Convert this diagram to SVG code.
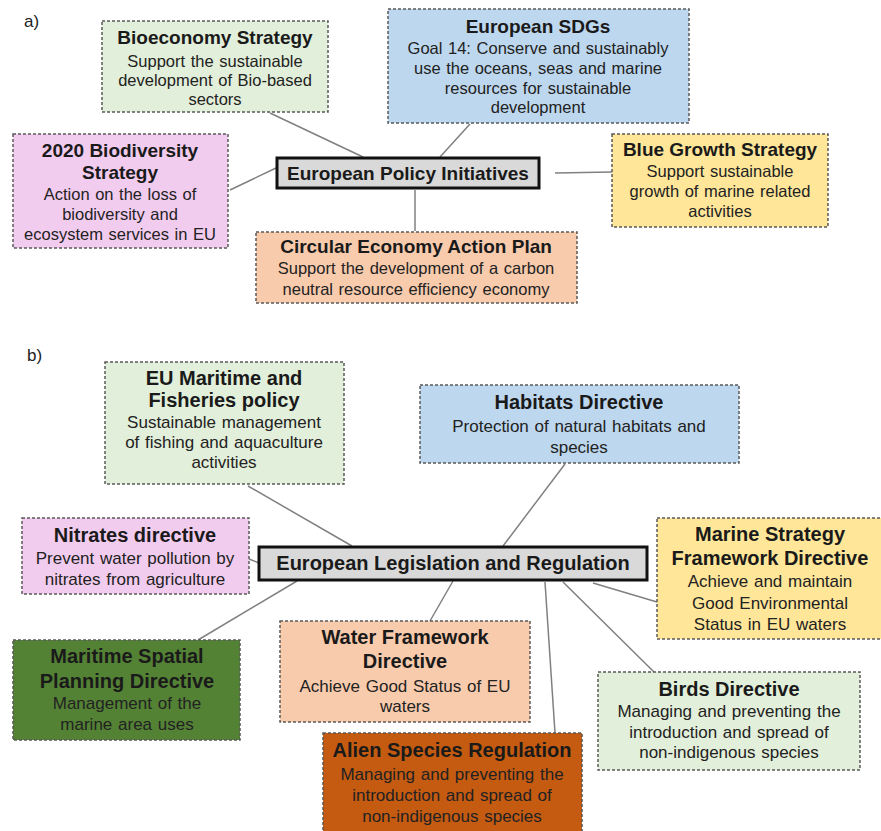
<svg xmlns="http://www.w3.org/2000/svg" width="881" height="831" viewBox="0 0 881 831">
<style>
  .box{stroke:#595959;stroke-width:1.5;stroke-dasharray:3 2}
  .center{fill:#d9d9d9;stroke:#111;stroke-width:3}
  .t{font-family:"Liberation Sans",Arial,sans-serif;font-weight:bold;font-size:19px;fill:#1a1a1a;text-anchor:middle}
  .tb{font-family:"Liberation Sans",Arial,sans-serif;font-weight:bold;font-size:20px;fill:#1a1a1a;text-anchor:middle}
  .d{font-family:"Liberation Sans",Arial,sans-serif;font-size:16.5px;fill:#222;text-anchor:middle;word-spacing:1px}
  .db{font-family:"Liberation Sans",Arial,sans-serif;font-size:17px;fill:#222;text-anchor:middle;word-spacing:1px}
  .lbl{font-family:"Liberation Sans",Arial,sans-serif;font-size:17px;fill:#222}
  .conn line{stroke:#808080;stroke-width:1.5}
  .green{fill:#e2efda}.blue{fill:#bdd7ee}.pink{fill:#f2ccef}.yellow{fill:#ffe699}.orange{fill:#f8cbad}.dgreen{fill:#548235}.brown{fill:#c55a11}
</style>
<rect width="881" height="831" fill="#fff"/>
<text class="lbl" x="24" y="27">a)</text>
<text class="lbl" x="27" y="361">b)</text>

<g id="connectors" class="conn">
  <line x1="270" y1="113" x2="363" y2="157"/>
  <line x1="470" y1="124" x2="440" y2="157"/>
  <line x1="230" y1="190" x2="276" y2="168"/>
  <line x1="555" y1="173" x2="612" y2="172"/>
  <line x1="415" y1="190" x2="415" y2="231"/>
  <line x1="248" y1="486" x2="352" y2="546"/>
  <line x1="565" y1="464" x2="503" y2="546"/>
  <line x1="249" y1="559" x2="259" y2="563"/>
  <line x1="198" y1="640" x2="297" y2="581"/>
  <line x1="453" y1="581" x2="430" y2="621"/>
  <line x1="545" y1="582" x2="555" y2="733"/>
  <line x1="563" y1="582" x2="654" y2="672"/>
  <line x1="593" y1="583" x2="657" y2="602"/>
</g>

<g id="bioeconomy">
  <rect class="box green" x="102" y="21" width="226" height="91"/>
  <text class="t" x="215" y="44">Bioeconomy Strategy</text>
  <text class="d" x="215" y="67">Support the sustainable</text>
  <text class="d" x="215" y="86">development of Bio-based</text>
  <text class="d" x="215" y="105">sectors</text>
</g>
<g id="sdgs">
  <rect class="box blue" x="388" y="9" width="301" height="114"/>
  <text class="t" x="538" y="33">European SDGs</text>
  <text class="d" x="538" y="54">Goal 14: Conserve and sustainably</text>
  <text class="d" x="538" y="74">use the oceans, seas and marine</text>
  <text class="d" x="538" y="94">resources for sustainable</text>
  <text class="d" x="538" y="113">development</text>
</g>
<g id="biodiversity">
  <rect class="box pink" x="13" y="134" width="215" height="114"/>
  <text class="t" x="120" y="157">2020 Biodiversity</text>
  <text class="t" x="120" y="179">Strategy</text>
  <text class="d" x="120" y="200">Action on the loss of</text>
  <text class="d" x="120" y="220">biodiversity and</text>
  <text class="d" x="120" y="240">ecosystem services in EU</text>
</g>
<g id="policy-initiatives">
  <rect class="center" x="277" y="158" width="262" height="30"/>
  <text class="t" x="408" y="180">European Policy Initiatives</text>
</g>
<g id="blue-growth">
  <rect class="box yellow" x="612" y="134" width="216" height="93"/>
  <text class="t" x="720" y="156">Blue Growth Strategy</text>
  <text class="d" x="720" y="177">Support sustainable</text>
  <text class="d" x="720" y="197">growth of marine related</text>
  <text class="d" x="720" y="217">activities</text>
</g>
<g id="circular">
  <rect class="box orange" x="256" y="232" width="321" height="71"/>
  <text class="t" x="416" y="253">Circular Economy Action Plan</text>
  <text class="d" x="416" y="274">Support the development of a carbon</text>
  <text class="d" x="416" y="295">neutral resource efficiency economy</text>
</g>

<g id="maritime-fisheries">
  <rect class="box green" x="105" y="362" width="239" height="122"/>
  <text class="tb" x="224" y="385">EU Maritime and</text>
  <text class="tb" x="224" y="407">Fisheries policy</text>
  <text class="db" x="224" y="428">Sustainable management</text>
  <text class="db" x="224" y="448">of fishing and aquaculture</text>
  <text class="db" x="224" y="468">activities</text>
</g>
<g id="habitats">
  <rect class="box blue" x="420" y="385" width="319" height="78"/>
  <text class="tb" x="579" y="409">Habitats Directive</text>
  <text class="db" x="579" y="432">Protection of natural habitats and</text>
  <text class="db" x="579" y="453">species</text>
</g>
<g id="nitrates">
  <rect class="box pink" x="22" y="518" width="227" height="76"/>
  <text class="tb" x="135" y="542">Nitrates directive</text>
  <text class="db" x="135" y="564">Prevent water pollution by</text>
  <text class="db" x="135" y="585">nitrates from agriculture</text>
</g>
<g id="legislation">
  <rect class="center" x="259" y="547" width="388" height="33"/>
  <text class="tb" x="453" y="570">European Legislation and Regulation</text>
</g>
<g id="marine-strategy">
  <rect class="box yellow" x="657" y="518" width="226" height="121"/>
  <text class="tb" x="770" y="541">Marine Strategy</text>
  <text class="tb" x="770" y="565">Framework Directive</text>
  <text class="db" x="770" y="587">Achieve and maintain</text>
  <text class="db" x="770" y="609">Good Environmental</text>
  <text class="db" x="770" y="630">Status in EU waters</text>
</g>
<g id="maritime-spatial">
  <rect class="box dgreen" x="13" y="640" width="227" height="100"/>
  <text class="tb" x="127" y="663">Maritime Spatial</text>
  <text class="tb" x="127" y="688">Planning Directive</text>
  <text class="db" x="127" y="709">Management of the</text>
  <text class="db" x="127" y="730">marine area uses</text>
</g>
<g id="water-framework">
  <rect class="box orange" x="280" y="621" width="250" height="101"/>
  <text class="tb" x="405" y="644">Water Framework</text>
  <text class="tb" x="405" y="668">Directive</text>
  <text class="db" x="405" y="692">Achieve Good Status of EU</text>
  <text class="db" x="405" y="712">waters</text>
</g>
<g id="alien-species">
  <rect class="box brown" x="323" y="733" width="259" height="102"/>
  <text class="tb" x="452" y="757">Alien Species Regulation</text>
  <text class="db" x="452" y="780">Managing and preventing the</text>
  <text class="db" x="452" y="801">introduction and spread of</text>
  <text class="db" x="452" y="822">non-indigenous species</text>
</g>
<g id="birds">
  <rect class="box green" x="598" y="672" width="262" height="98"/>
  <text class="tb" x="729" y="696">Birds Directive</text>
  <text class="db" x="729" y="717">Managing and preventing the</text>
  <text class="db" x="729" y="738">introduction and spread of</text>
  <text class="db" x="729" y="758">non-indigenous species</text>
</g>
</svg>
